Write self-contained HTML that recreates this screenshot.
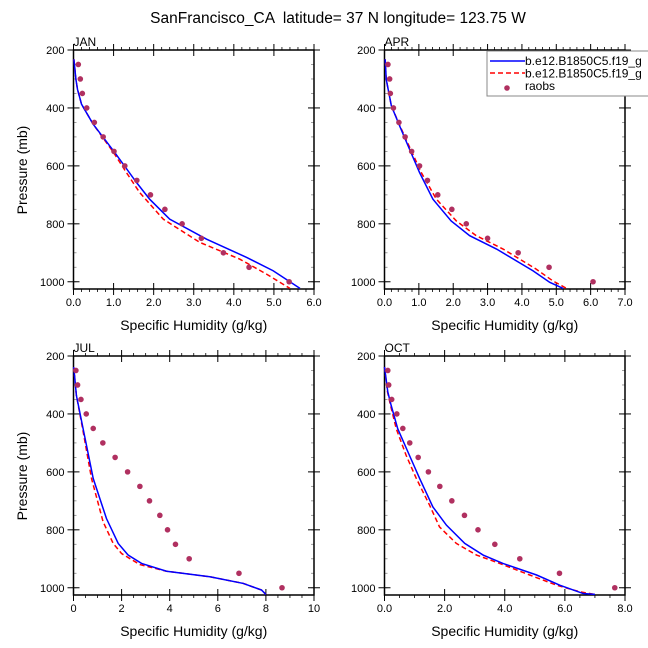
<!DOCTYPE html>
<html><head><meta charset="utf-8"><style>body{margin:0;background:#fff}svg{display:block;font-family:"Liberation Sans",Arial,sans-serif}</style></head>
<body>
<svg id="chart" width="648" height="648" viewBox="0 0 648 648">
<text x="338" y="23" font-size="15.5" text-anchor="middle" xml:space="preserve">SanFrancisco_CA  latitude= 37 N longitude= 123.75 W</text>
</svg>
<script>
const obsP=[250,300,350,400,450,500,550,600,650,700,750,800,850,900,950,1000];
const janObs=[0.12,0.17,0.22,0.33,0.52,0.74,1.01,1.28,1.58,1.92,2.28,2.71,3.19,3.74,4.38,5.38];
const janBlueP=[232,301,336,387,456,554,657,715,784,853,916,962,1023];
const janBlue=[0.01,0.06,0.1,0.2,0.49,1.03,1.57,1.9,2.4,3.32,4.32,4.98,5.65];
const janRedP=[232,301,336,387,456,554,623,692,784,864,922,974,1023];
const janRed=[0.01,0.06,0.1,0.2,0.49,1.0,1.32,1.65,2.24,3.15,4.15,4.82,5.4];
const aprObs=[0.10,0.15,0.17,0.26,0.42,0.60,0.79,1.02,1.25,1.55,1.96,2.38,3.0,3.89,4.79,6.07];
const aprBlueP=[232,301,393,462,543,623,715,790,841,887,962,1002,1023];
const aprBlue=[0.02,0.05,0.2,0.44,0.73,1.02,1.41,1.94,2.48,3.26,4.32,4.81,5.2];
const aprRedP=[232,301,393,462,543,623,715,790,841,887,956,997,1023];
const aprRed=[0.02,0.05,0.2,0.45,0.76,1.07,1.51,2.09,2.67,3.45,4.41,4.9,5.3];
const julObs=[0.10,0.17,0.31,0.53,0.82,1.22,1.73,2.25,2.76,3.16,3.59,3.91,4.24,4.81,6.88,8.67];
const julBlueP=[238,336,451,623,761,847,887,916,943,962,985,1008,1023];
const julBlue=[0.01,0.12,0.4,0.82,1.37,1.86,2.27,2.83,3.87,5.67,7.06,7.82,8.0];
const julRedP=[238,336,451,623,772,847,882,920,943,962,985,1008,1023];
const julRed=[0.01,0.12,0.38,0.75,1.23,1.65,2.0,2.76,3.87,5.67,7.06,7.82,8.0];
const octObs=[0.11,0.14,0.24,0.41,0.61,0.84,1.12,1.46,1.84,2.24,2.66,3.11,3.67,4.5,5.82,7.66];
const octBlueP=[238,324,370,451,543,623,721,784,847,887,916,956,991,1020,1023];
const octBlue=[0,0.11,0.22,0.44,0.83,1.17,1.61,2.06,2.67,3.28,3.94,5.06,5.83,6.61,7.0];
const octRedP=[238,324,370,451,543,623,715,790,847,887,916,956,991,1014,1023];
const octRed=[0,0.1,0.2,0.39,0.72,1.06,1.5,1.83,2.39,3.06,3.83,4.83,5.72,6.5,7.0];
const janTicks=["0.0","1.0","2.0","3.0","4.0","5.0","6.0"];
const aprTicks=["0.0","1.0","2.0","3.0","4.0","5.0","6.0","7.0"];
const julTicks=["0","2","4","6","8","10"];
const octTicks=["0.0","2.0","4.0","6.0","8.0"];
const pTicks=[200,400,600,800,1000];
const legendLabels=["b.e12.B1850C5.f19_g","b.e12.B1850C5.f19_g","raobs"];

const NS="http://www.w3.org/2000/svg";
const svg=document.getElementById('chart');
function mk(t,a,p){const e=document.createElementNS(NS,t);for(const k in a)e.setAttribute(k,a[k]);(p||svg).appendChild(e);return e;}
const W=240.5,H=239,PMIN=200,PMAX=1025;
function panel(name,x0,y0,xmax,nMinor,ticks,obs,bp,bv,rp,rv){
  const g=mk('g',{});
  
  
  const sx=v=>x0+v/xmax*W, sy=p=>y0+(p-PMIN)/(PMAX-PMIN)*H;
  const step=xmax/(ticks.length-1);
  for(let i=0;i<ticks.length;i++){
    const xv=i*step,X=sx(xv);
    mk('line',{x1:X,x2:X,y1:y0-6,y2:y0+6,stroke:'#000','stroke-width':1},g);
    mk('line',{x1:X,x2:X,y1:y0+H-6,y2:y0+H+6,stroke:'#000','stroke-width':1},g);
    const t=mk('text',{x:X,y:y0+H+17,'font-size':11,'text-anchor':'middle'},g);t.textContent=ticks[i];
    
    
    if(i<ticks.length-1)for(let k=1;k<nMinor;k++){const Xm=sx(xv+k*step/nMinor);
      mk('line',{x1:Xm,x2:Xm,y1:y0-3,y2:y0,stroke:'#000','stroke-width':0.8},g);
      mk('line',{x1:Xm,x2:Xm,y1:y0+H,y2:y0+H+3,stroke:'#000','stroke-width':0.8},g);}
  }
  for(let p=250;p<=1000;p+=50){const Y=sy(p);
    mk('line',{x1:x0,x2:x0+3,y1:Y,y2:Y,stroke:'#888','stroke-width':0.8},g);
    mk('line',{x1:x0+W-3,x2:x0+W,y1:Y,y2:Y,stroke:'#888','stroke-width':0.8},g);}
  pTicks.forEach(p=>{const Y=sy(p);
    mk('line',{x1:x0-6,x2:x0+6,y1:Y,y2:Y,stroke:'#000','stroke-width':1},g);
    mk('line',{x1:x0+W-6,x2:x0+W+6,y1:Y,y2:Y,stroke:'#000','stroke-width':1},g);
    const t=mk('text',{x:x0-9,y:Y+4,'font-size':11,'text-anchor':'end'},g);t.textContent=p;
    
    });
  mk('rect',{x:x0,y:y0,width:W,height:H,fill:'none',stroke:'#000','stroke-width':1.5},g);
  const lab=mk('text',{x:x0,y:y0-4,'font-size':12},g);lab.textContent=name.toUpperCase();
  
  
  const xt=mk('text',{x:x0+W/2,y:y0+H+41,'font-size':14,'text-anchor':'middle'},g);xt.textContent='Specific Humidity (g/kg)';
  
  
  const rl=mk('polyline',{points:rv.map((v,i)=>sx(v)+','+sy(rp[i])).join(' '),fill:'none',stroke:'#f00','stroke-width':1.5,'stroke-dasharray':'5,3'},g);
  
  
  const bl=mk('polyline',{points:bv.map((v,i)=>sx(v)+','+sy(bp[i])).join(' '),fill:'none',stroke:'#00f','stroke-width':1.5},g);
  
  
  obs.forEach((v,i)=>{const c=mk('circle',{cx:sx(v),cy:sy(obsP[i]),r:2.8,fill:'#b03060'},g);
    
    });
}
panel('jan',73.5,50,6,5,janTicks,janObs,janBlueP,janBlue,janRedP,janRed);
panel('apr',384.5,50,7,5,aprTicks,aprObs,aprBlueP,aprBlue,aprRedP,aprRed);
panel('jul',73.5,356,10,4,julTicks,julObs,julBlueP,julBlue,julRedP,julRed);
panel('oct',384.5,356,8,4,octTicks,octObs,octBlueP,octBlue,octRedP,octRed);
[170,476].forEach(cy=>{const t=mk('text',{x:0,y:0,'font-size':14,'text-anchor':'middle',transform:`translate(27,${cy}) rotate(-90)`});t.textContent='Pressure (mb)';
  
  });
const lg=mk('g',{});


mk('rect',{x:487,y:51,width:170,height:45,fill:'#fff',stroke:'#888','stroke-width':1},lg);
mk('line',{x1:490,x2:525,y1:61,y2:61,stroke:'#00f','stroke-width':1.5},lg);
mk('line',{x1:490,x2:525,y1:73,y2:73,stroke:'#f00','stroke-width':1.5,'stroke-dasharray':'5,3'},lg);
mk('circle',{cx:507,cy:88,r:2.8,fill:'#b03060'},lg);
legendLabels.forEach((s,i)=>{const t=mk('text',{x:525,y:65+i*12.5,'font-size':12},lg);t.textContent=s;
  
  });
</script>
</body></html>
